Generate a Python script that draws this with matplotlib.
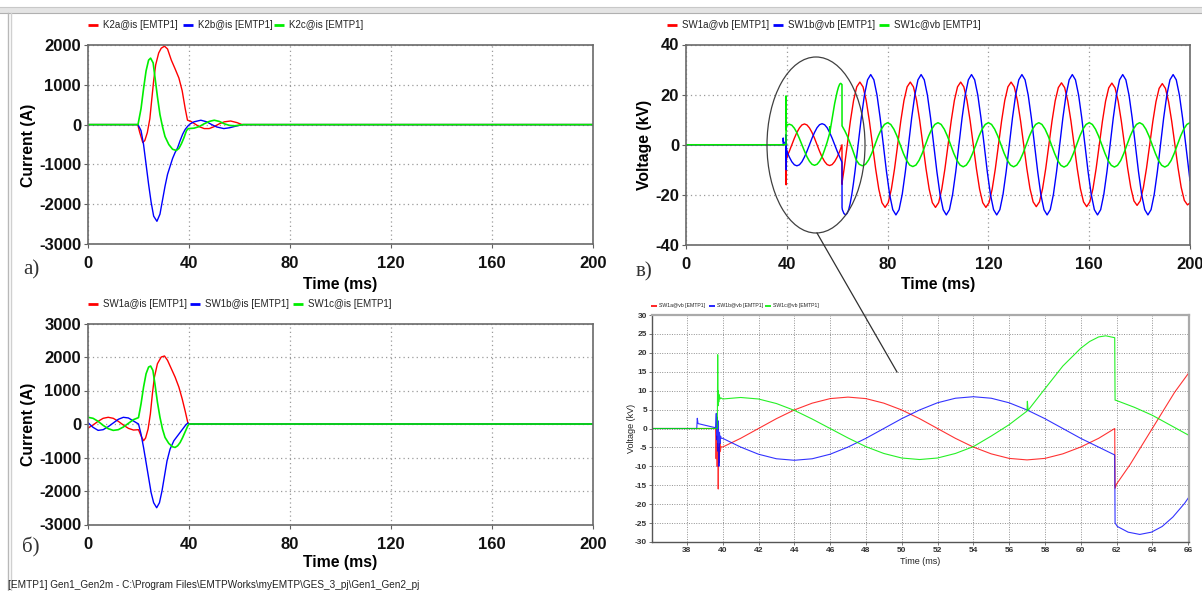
import matplotlib
matplotlib.use('Agg')
import matplotlib.pyplot as plt
from matplotlib.patches import Ellipse, Rectangle
from matplotlib.lines import Line2D

plt.rcParams['axes.unicode_minus'] = False

W, H = 1202, 591

# ---------------- Panel a: K2 currents (A) ----------------
k2a_t = [0, 19.7, 20.5, 21.7, 22.5, 23.5, 24.5, 25.2, 26.0, 26.8, 28.0, 29.0, 30.3, 31.5, 33.0,
         34.5, 36.0, 37.3, 38.5, 39.4, 40.5, 42, 44, 46, 48, 50, 52, 54, 56.5, 59, 61, 200]
k2a_v = [0, 0, -200, -450, -400, -200, 150, 600, 1100, 1500, 1800, 1920, 1970, 1900, 1620,
         1400, 1170, 850, 400, 110, 90, 30, -50, -100, -100, -50, 20, 70, 90, 50, 0, 0]
k2b_t = [0, 19.8, 21, 22, 23, 24, 25, 26, 27.3, 28.5, 29.5, 30.5, 31.5, 32.5, 33.5, 34.5, 35.5,
         36.5, 37.5, 38.5, 39.5, 40.5, 42, 44.7, 47, 49, 51, 53.8, 56, 58.5, 61, 200]
k2b_v = [0, 0, -150, -500, -1000, -1500, -1950, -2300, -2430, -2250, -1900, -1550, -1250, -1050,
         -850, -700, -580, -400, -240, -120, -40, 20, 70, 110, 70, 0, -60, -100, -80, -40, 0, 0]
k2c_t = [0, 19.8, 21, 22, 23, 24, 24.8, 25.8, 26.5, 27.5, 28.5, 29.5, 30.5, 32, 33.5, 35, 36, 37,
         38, 39, 39.7, 42, 44, 46, 48, 50, 52, 54, 56, 58, 60, 61.5, 200]
k2c_v = [0, 0, 400, 900, 1350, 1620, 1670, 1550, 1200, 700, 250, -50, -300, -500, -620, -650,
         -600, -480, -330, -150, -100, -90, -50, 20, 80, 110, 80, 20, -20, -30, -15, 0, 0]

# ---------------- Panel b: SW1 currents (A) ----------------
s1a_t = [0, 2, 4, 6, 8, 10, 12, 14, 16, 18, 20, 21, 22, 22.8, 23.8, 24.7, 25.5, 26.3, 27.5, 29,
         30.3, 31.5, 33, 34.5, 36, 37.3, 38.5, 39.5, 40, 200]
s1a_v = [-120, -30, 80, 170, 200, 170, 80, -30, -130, -180, -170, -350, -500, -420, -150, 300,
         900, 1400, 1800, 2000, 2030, 1900, 1650, 1400, 1100, 750, 380, 50, 0, 0]
s1b_t = [0, 2, 4, 6, 8, 10, 12, 14, 16, 18, 20, 21, 22, 23, 24, 25, 26, 27.2, 28.3, 29.3, 30.3,
         31.3, 32.5, 34, 35.5, 37, 38.5, 39.5, 40, 200]
s1b_v = [40, -100, -190, -170, -80, 30, 140, 200, 180, 90, 0, -300, -700, -1150, -1600, -2050,
         -2350, -2500, -2350, -2000, -1550, -1100, -750, -500, -350, -200, -50, 30, 0, 0]
s1c_t = [0, 2, 4, 6, 8, 10, 12, 14, 16, 18, 20, 21, 22, 23, 24, 24.8, 25.7, 26.5, 27.5, 28.5,
         29.5, 30.5, 32, 33.5, 34.5, 35.5, 36.5, 37.5, 38.5, 39.5, 40, 200]
s1c_v = [200, 170, 80, -40, -140, -190, -170, -90, 20, 130, 190, 600, 1100, 1500, 1700, 1730,
         1600, 1200, 650, 200, -150, -400, -580, -680, -700, -650, -550, -400, -230, -60, 0, 0]

# ---------------- Panels v / g: SW1 voltages (kV) ----------------
va_t = [0, 39.6, 39.63, 39.66, 39.69, 39.72, 39.75, 39.78, 39.81, 39.84, 39.87, 39.9,
        40, 41, 42, 43, 44, 45, 46, 47, 48, 49, 50, 51, 52, 53, 54, 55, 56, 57, 58, 59, 60, 61,
        61.9, 61.92, 62, 62.75,
        64, 65.25, 66.5, 67.75, 69, 70.25, 71.5, 72.75, 74, 75.25, 76.5, 77.75, 79, 80.25, 81.5, 82.75,
        84, 85.25, 86.5, 87.75, 89, 90.25, 91.5, 92.75, 94, 95.25, 96.5, 97.75, 99, 100.25, 101.5, 102.75,
        104, 105.25, 106.5, 107.75, 109, 110.25, 111.5, 112.75, 114, 115.25, 116.5, 117.75, 119, 120.25, 121.5, 122.75,
        124, 125.25, 126.5, 127.75, 129, 130.25, 131.5, 132.75, 134, 135.25, 136.5, 137.75, 139, 140.25, 141.5, 142.75,
        144, 145.25, 146.5, 147.75, 149, 150.25, 151.5, 152.75, 154, 155.25, 156.5, 157.75, 159, 160.25, 161.5, 162.75,
        164, 165.25, 166.5, 167.75, 169, 170.25, 171.5, 172.75, 174, 175.25, 176.5, 177.75, 179, 180.25, 181.5, 182.75,
        184, 185.25, 186.5, 187.75, 189, 190.25, 191.5, 192.75, 194, 195.25, 196.5, 197.75, 199, 200]
va_v = [0, 0, -8, -2, -10, -4, -16, -5, -9, -4, -6, -4.8,
        -4.9, -2.6, 0, 2.6, 4.9, 6.7, 7.9, 8.3, 7.9, 6.7, 4.9, 2.6, 0, -2.6, -4.9, -6.7, -7.9,
        -8.3, -7.9, -6.7, -4.9, -2.6,
        0, -15.8, -14.7, -9.6,
        0, 9.6, 17.7, 23.1, 25, 23.1, 17.7, 9.6, 0, -9.6, -17.7, -23.1, -25, -23.1, -17.7, -9.6,
        0, 9.6, 17.7, 23.1, 25, 23.1, 17.7, 9.6, 0, -9.6, -17.7, -23.1, -25, -23.1, -17.7, -9.6,
        0, 9.6, 17.7, 23.1, 25, 23.1, 17.7, 9.6, 0, -9.6, -17.7, -23.1, -25, -23.1, -17.7, -9.6,
        0, 9.6, 17.7, 23.1, 25, 23.1, 17.7, 9.6, 0, -9.5, -17.5, -22.8, -24.7, -22.8, -17.5, -9.5,
        0, 9.5, 17.5, 22.8, 24.7, 22.8, 17.5, 9.5, 0, -9.5, -17.5, -22.8, -24.7, -22.8, -17.5, -9.5,
        0, 9.4, 17.4, 22.7, 24.6, 22.7, 17.4, 9.4, 0, -9.3, -17.1, -22.4, -24.2, -22.4, -17.1, -9.3,
        0, 9.3, 17.2, 22.5, 24.4, 22.5, 17.2, 9.3, 0, -9.2, -17.0, -22.2, -24.0, -23.2]

vb_t = [0, 38.55, 38.58, 38.62, 39.6, 39.64, 39.67, 39.7, 39.73, 39.76, 39.79, 39.82, 39.85,
        39.88, 39.92,
        40, 41, 42, 43, 44, 45, 46, 47, 48, 49, 50, 51, 52, 53, 54, 55, 56, 57, 58, 59, 60, 61,
        61.9, 61.92, 62.05, 62.65,
        63.3, 63.95, 64.55, 65.15, 65.8, 66.4, 67.05, 68.3, 69.55, 70.8, 72.05, 73.3, 74.55, 75.8, 77.05, 78.3, 79.55, 80.8, 82.05,
        83.3, 84.55, 85.8, 87.05, 88.3, 89.55, 90.8, 92.05, 93.3, 94.55, 95.8, 97.05, 98.3, 99.55, 100.8, 102.05,
        103.3, 104.55, 105.8, 107.05, 108.3, 109.55, 110.8, 112.05, 113.3, 114.55, 115.8, 117.05, 118.3, 119.55, 120.8, 122.05,
        123.3, 124.55, 125.8, 127.05, 128.3, 129.55, 130.8, 132.05, 133.3, 134.55, 135.8, 137.05, 138.3, 139.55, 140.8, 142.05,
        143.3, 144.55, 145.8, 147.05, 148.3, 149.55, 150.8, 152.05, 153.3, 154.55, 155.8, 157.05, 158.3, 159.55, 160.8, 162.05,
        163.3, 164.55, 165.8, 167.05, 168.3, 169.55, 170.8, 172.05, 173.3, 174.55, 175.8, 177.05, 178.3, 179.55, 180.8, 182.05,
        183.3, 184.55, 185.8, 187.05, 188.3, 189.55, 190.8, 192.05, 193.3, 194.55, 195.8, 197.05, 198.3, 199.55, 200]
vb_v = [0, 0, 2.7, 1.3, 0.2, 4, -3, 3, -6, 2, -10, -1, -4, -2, -2.6,
        -2.6, -4.9, -6.8, -8.0, -8.4, -8.0, -6.8, -4.9, -2.6, 0, 2.6, 4.9, 6.8, 8.0, 8.4, 8.0,
        6.8, 4.9, 2.6, 0, -2.6, -4.9,
        -7.0, -25, -25.9, -27.4,
        -28, -27.4, -25.9, -23.4, -19.8, -15.7, -10.7, 0, 10.7, 19.8, 25.9, 28, 25.9, 19.8, 10.7, 0, -10.7, -19.8, -25.9,
        -28, -25.9, -19.8, -10.7, 0, 10.7, 19.8, 25.9, 28, 25.9, 19.8, 10.7, 0, -10.7, -19.8, -25.9,
        -28, -25.9, -19.8, -10.7, 0, 10.7, 19.8, 25.9, 28, 25.9, 19.8, 10.7, 0, -10.7, -19.8, -25.9,
        -28, -25.9, -19.8, -10.7, 0, 10.7, 19.8, 25.9, 28, 25.9, 19.8, 10.7, 0, -10.7, -19.8, -25.9,
        -28, -25.9, -19.8, -10.7, 0, 10.7, 19.8, 25.9, 28, 25.9, 19.8, 10.7, 0, -10.7, -19.8, -25.9,
        -28, -25.9, -19.8, -10.7, 0, 10.7, 19.8, 25.9, 28, 25.9, 19.8, 10.7, 0, -10.7, -19.8, -25.9,
        -28, -25.9, -19.8, -10.7, 0, 10.7, 19.8, 25.9, 28, 25.9, 19.8, 10.7, 0, -10.7, -14.3]

vc_t = [0, 39.7, 39.72, 39.74, 39.76, 39.78, 39.8, 39.85, 39.9,
        40, 41, 42, 43, 44, 45, 46, 47, 48, 49, 50, 51, 52, 53, 54, 55, 56, 57, 57.02, 57.06,
        58, 59, 60, 60.5, 61, 61.4, 61.9, 61.92, 62, 63, 64, 65, 66,
        67.5, 68.75, 70, 71.25, 72.5, 73.75,
        75, 76.25, 77.5, 78.75, 80, 81.25, 82.5, 83.75, 85, 86.25, 87.5, 88.75, 90, 91.25, 92.5, 93.75,
        95, 96.25, 97.5, 98.75, 100, 101.25, 102.5, 103.75, 105, 106.25, 107.5, 108.75, 110, 111.25, 112.5, 113.75,
        115, 116.25, 117.5, 118.75, 120, 121.25, 122.5, 123.75, 125, 126.25, 127.5, 128.75, 130, 131.25, 132.5, 133.75,
        135, 136.25, 137.5, 138.75, 140, 141.25, 142.5, 143.75, 145, 146.25, 147.5, 148.75, 150, 151.25, 152.5, 153.75,
        155, 156.25, 157.5, 158.75, 160, 161.25, 162.5, 163.75, 165, 166.25, 167.5, 168.75, 170, 171.25, 172.5, 173.75,
        175, 176.25, 177.5, 178.75, 180, 181.25, 182.5, 183.75, 185, 186.25, 187.5, 188.75, 190, 191.25, 192.5, 193.75,
        195, 196.25, 197.5, 198.75, 200]
vc_v = [0, 0, 19.5, 6, 10, 7, 9, 7.8, 8.1,
        7.8, 8.2, 7.8, 6.6, 4.8, 2.5, 0, -2.5, -4.8, -6.6, -7.8, -8.2, -7.8, -6.6, -4.8, -2.0,
        1.0, 4.6, 7.2, 4.8,
        10.5, 16.5, 21.2, 23, 24.2, 24.5, 24, 7.5, 7.4, 5.6, 3.5, 0.9, -1.7,
        -6.0, -7.8, -8.4, -7.8, -6.0, -3.3,
        0, 3.4, 6.2, 8.1, 8.8, 8.1, 6.2, 3.4, 0, -3.4, -6.2, -8.1, -8.7, -8.1, -6.2, -3.4,
        0, 3.4, 6.2, 8.1, 8.8, 8.1, 6.2, 3.4, 0, -3.4, -6.2, -8.1, -8.8, -8.1, -6.2, -3.4,
        0, 3.4, 6.2, 8.1, 8.8, 8.1, 6.2, 3.4, 0, -3.4, -6.2, -8.1, -8.8, -8.1, -6.2, -3.4,
        0, 3.4, 6.2, 8.1, 8.8, 8.1, 6.2, 3.4, 0, -3.4, -6.3, -8.2, -8.9, -8.2, -6.3, -3.4,
        0, 3.4, 6.2, 8.1, 8.8, 8.1, 6.2, 3.4, 0, -3.4, -6.3, -8.2, -8.9, -8.2, -6.3, -3.4,
        0, 3.4, 6.2, 8.1, 8.8, 8.1, 6.2, 3.4, 0, -3.4, -6.3, -8.2, -8.9, -8.2, -6.3, -3.4,
        0, 3.4, 6.2, 8.1, 8.8]

# ---------------- Axis ticks & texts ----------------
time_ticks = [0, 40, 80, 120, 160, 200]
curr_ticks_a = [-3000, -2000, -1000, 0, 1000, 2000]
curr_ticks_b = [-3000, -2000, -1000, 0, 1000, 2000, 3000]
volt_ticks = [-40, -20, 0, 20, 40]
zoom_xticks = [38, 40, 42, 44, 46, 48, 50, 52, 54, 56, 58, 60, 62, 64, 66]
zoom_yticks = [-30, -25, -20, -15, -10, -5, 0, 5, 10, 15, 20, 25, 30]
legend_a = ['K2a@is [EMTP1]', 'K2b@is [EMTP1]', 'K2c@is [EMTP1]']
legend_b = ['SW1a@is [EMTP1]', 'SW1b@is [EMTP1]', 'SW1c@is [EMTP1]']
legend_v = ['SW1a@vb [EMTP1]', 'SW1b@vb [EMTP1]', 'SW1c@vb [EMTP1]']
footer = r'[EMTP1] Gen1_Gen2m - C:\Program Files\EMTPWorks\myEMTP\GES_3_pj\Gen1_Gen2_pj'

RED, BLUE, GREEN = '#ff0000', '#0000ff', '#00ee00'
SANS = 'Liberation Sans'
SERIF = 'Liberation Serif'

fig = plt.figure(figsize=(W / 100, H / 100), dpi=100)
fig.patch.set_facecolor('white')


def fx(x):
    return x / W


def fy(y):
    return 1 - y / H


def ax_px(l, t, r, b):
    return fig.add_axes([l / W, 1 - b / H, (r - l) / W, (b - t) / H])


def ftext(x, y, s, **kw):
    fig.text(fx(x), fy(y), s, **kw)


def fline(xs, ys, **kw):
    fig.add_artist(Line2D([fx(v) for v in xs], [fy(v) for v in ys],
                          transform=fig.transFigure, **kw))


def legend_px(xs, y, labels, fs, dash, gap, lw):
    for x0, c, lab in zip(xs, [RED, BLUE, GREEN], labels):
        fline([x0, x0 + dash], [y, y], color=c, lw=lw, solid_capstyle='butt')
        ftext(x0 + dash + gap, y, lab, fontsize=fs, family=SANS, color='#222222',
              va='center', ha='left')


def style_big(ax, yticks, ylim):
    ax.set_xlim(0, 200)
    ax.set_ylim(*ylim)
    ax.set_xticks(time_ticks)
    ax.set_yticks(yticks)
    ax.grid(True, color='#9a9a9a', linestyle=(0, (1, 2.5)), linewidth=0.9)
    ax.set_axisbelow(True)
    ax.tick_params(direction='out', length=3, width=0.8, color='#606060', labelsize=12)
    ax.tick_params(axis='x', pad=6)
    ax.tick_params(axis='y', pad=2)
    for lbl in ax.get_xticklabels() + ax.get_yticklabels():
        lbl.set_fontweight('bold')
        lbl.set_family(SANS)
        lbl.set_color('#111111')
    for s in ax.spines.values():
        s.set_color('#6a6a6a')
        s.set_linewidth(1.2)


# ---------- window frame decoration ----------
fig.add_artist(Rectangle((0, fy(13)), 1, (13 - 7) / H, transform=fig.transFigure,
                         facecolor='#e4e4e4', edgecolor='none', zorder=0))
fline([0, W], [7, 7], color='#c8c8c8', lw=0.8)
fline([0, W], [13, 13], color='#b0b0b0', lw=0.8)
fline([8, 8], [13, H], color='#b8b8b8', lw=1.0)
fline([11, 11], [13, H], color='#d0d0d0', lw=1.0)

# ---------- Panel a ----------
ax1 = ax_px(88, 45, 593, 244)
ax1.plot(k2a_t, k2a_v, color=RED, lw=1.0)
ax1.plot(k2b_t, k2b_v, color=BLUE, lw=1.0)
ax1.plot(k2c_t, k2c_v, color=GREEN, lw=1.2)
style_big(ax1, curr_ticks_a, (-3000, 2000))
legend_px([88, 183, 274], 25, legend_a, 7.0, 10, 5, 2)
ftext(340, 284, 'Time (ms)', fontsize=11.3, fontweight='bold', family=SANS, ha='center', va='center')
ftext(29, 145, 'Current (A)', fontsize=11.3, fontweight='bold', family=SANS, ha='center',
      va='center', rotation=90)
ftext(31, 270, 'а)', fontsize=15, family=SERIF, ha='center', va='center', color='#333333')

# ---------- Panel b ----------
ax2 = ax_px(88, 323.5, 593, 524.5)
ax2.plot(s1a_t, s1a_v, color=RED, lw=1.0)
ax2.plot(s1b_t, s1b_v, color=BLUE, lw=1.0)
ax2.plot(s1c_t, s1c_v, color=GREEN, lw=1.2)
style_big(ax2, curr_ticks_b, (-3000, 3000))
legend_px([88, 190, 293], 304, legend_b, 7.0, 10, 5, 2)
ftext(340, 563, 'Time (ms)', fontsize=11.3, fontweight='bold', family=SANS, ha='center', va='center')
ftext(29, 424, 'Current (A)', fontsize=11.3, fontweight='bold', family=SANS, ha='center',
      va='center', rotation=90)
ftext(31, 547, 'б)', fontsize=15, family=SERIF, ha='center', va='center', color='#333333')
ftext(8, 585, footer, fontsize=7.2, family=SANS, ha='left', va='center', color='#222222')

# ---------- Panel v ----------
ax3 = ax_px(686, 44.5, 1190, 245)
ax3.plot(va_t, va_v, color=RED, lw=1.0)
ax3.plot(vb_t, vb_v, color=BLUE, lw=1.0)
ax3.plot(vc_t, vc_v, color=GREEN, lw=1.1)
style_big(ax3, volt_ticks, (-40, 40))
legend_px([667, 773, 879], 25, legend_v, 7.0, 10, 5, 2)
ftext(938, 284, 'Time (ms)', fontsize=11.3, fontweight='bold', family=SANS, ha='center', va='center')
ftext(645, 145, 'Voltage (kV)', fontsize=11.3, fontweight='bold', family=SANS, ha='center',
      va='center', rotation=90)
ftext(644, 272, 'в)', fontsize=15, family=SERIF, ha='center', va='center', color='#333333')

# ---------- Panel g (zoom) ----------
ax4 = ax_px(652, 315, 1189, 542)
ax4.plot(va_t, va_v, color=RED, lw=0.8, alpha=0.8)
ax4.plot(vb_t, vb_v, color=BLUE, lw=0.8, alpha=0.8)
ax4.plot(vc_t, vc_v, color=GREEN, lw=0.8, alpha=0.85)
ax4.set_xlim(36.05, 66.05)
ax4.set_ylim(-30, 30)
ax4.set_xticks(zoom_xticks)
ax4.set_yticks(zoom_yticks)
ax4.grid(True, color='#909090', linestyle=(0, (1, 1.5)), linewidth=0.7)
ax4.set_axisbelow(True)
ax4.tick_params(direction='out', length=2, width=0.6, color='#606060', labelsize=6, pad=1.5)
for lbl in ax4.get_xticklabels() + ax4.get_yticklabels():
    lbl.set_fontweight('bold')
    lbl.set_family(SANS)
    lbl.set_color('#333333')
for side in ['left', 'bottom']:
    ax4.spines[side].set_color('#555555')
    ax4.spines[side].set_linewidth(1.0)
for side in ['top', 'right']:
    ax4.spines[side].set_color('#aaaaaa')
    ax4.spines[side].set_linewidth(1.6)
legend_px([651, 709, 765], 306, legend_v, 3.7, 6, 2, 1.2)
ftext(920, 561, 'Time (ms)', fontsize=6.5, family=SANS, ha='center', va='center', color='#222222')
ftext(631, 428, 'Voltage (kV)', fontsize=6.5, family=SANS, ha='center', va='center',
      rotation=90, color='#222222')

# ---------- ellipse & connector ----------
fig.add_artist(Ellipse((fx(816), fy(145)), 98 / W, 176 / H, transform=fig.transFigure,
                       fill=False, edgecolor='#404040', lw=0.9, zorder=10))
fline([817, 897], [233, 372], color='#303030', lw=0.9, zorder=10)

fig.savefig('out.png', dpi=100)
